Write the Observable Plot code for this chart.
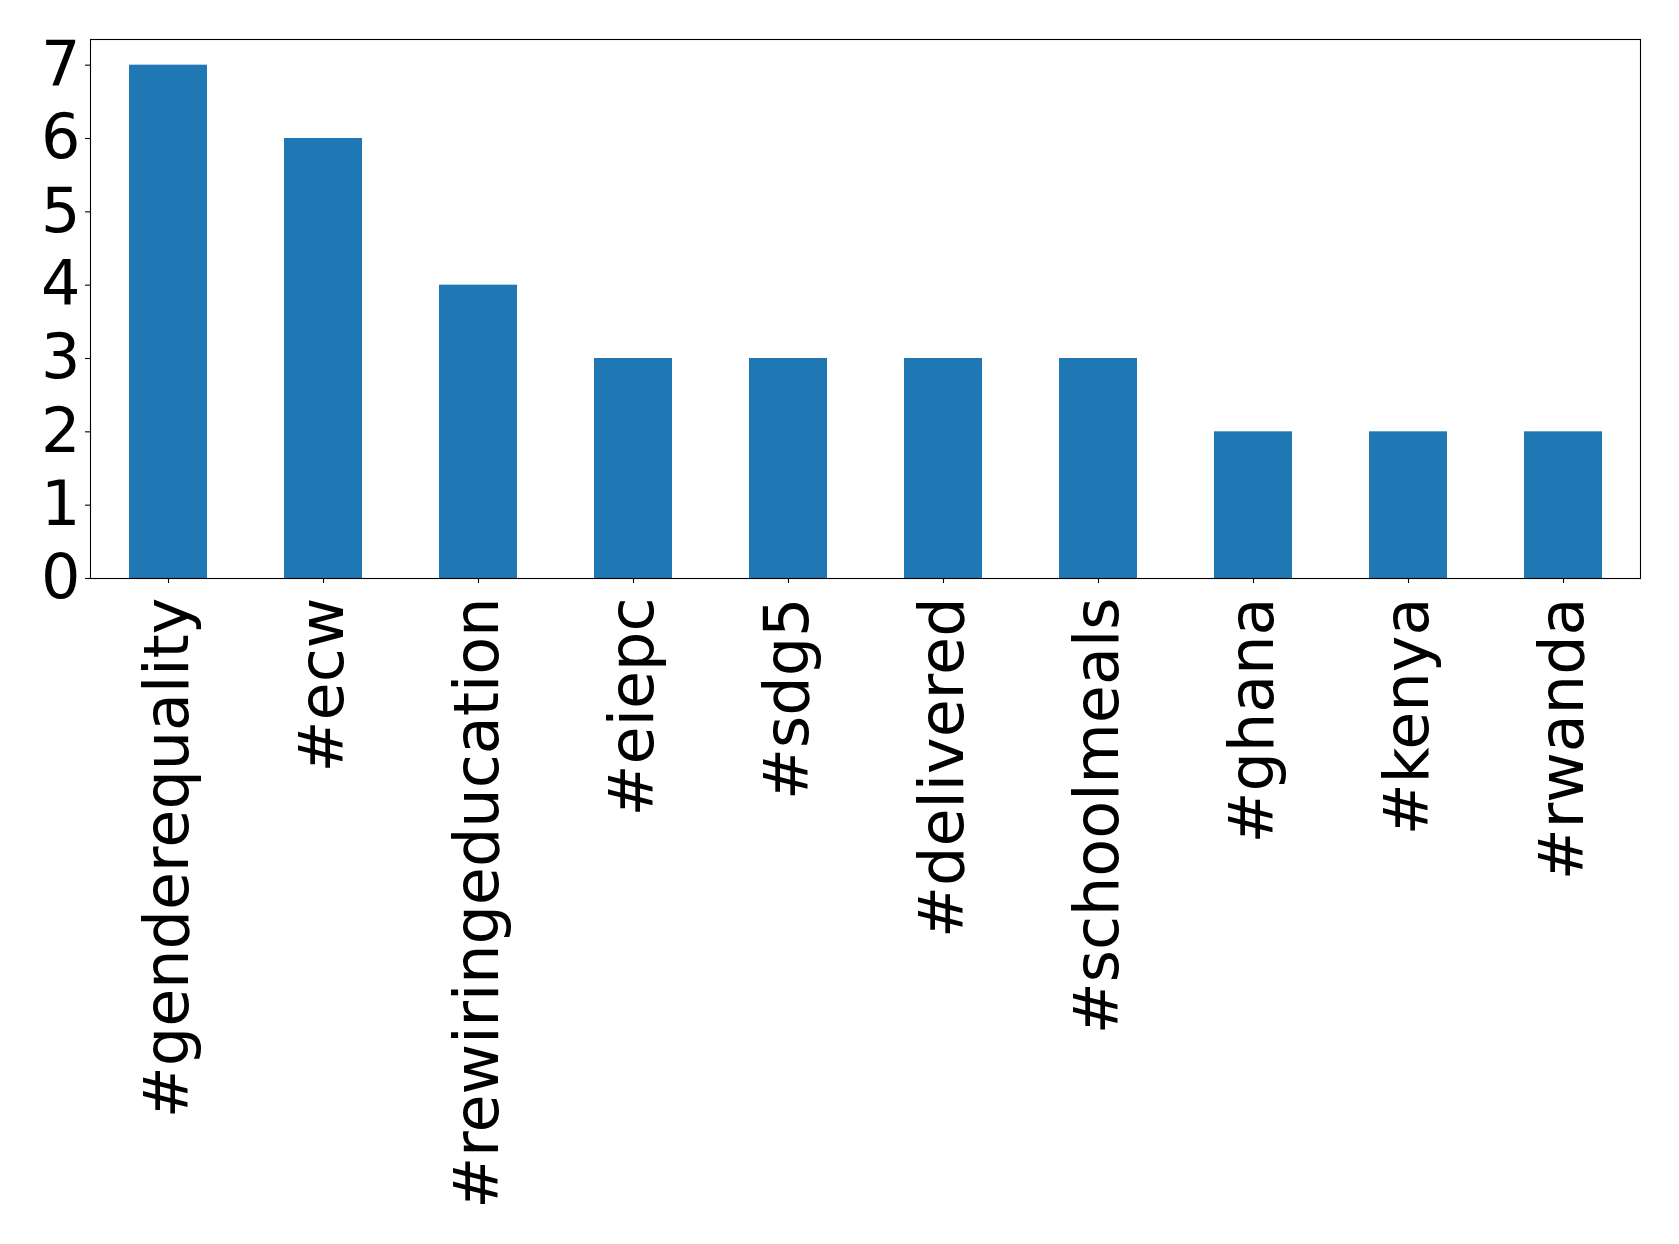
<!DOCTYPE html>
<html>
<head>
<meta charset="utf-8">
<script src="https://cdn.jsdelivr.net/npm/d3@7"></script>
<script src="https://cdn.jsdelivr.net/npm/@observablehq/plot@0.6"></script>
<style>
  html, body { margin: 0; padding: 0; background: #fff; }
  #chart svg { display: block; }
</style>
</head>
<body>
<div id="chart"></div>
<script>
// Hashtag counts
const tags = ["#genderequality", "#ecw", "#rewiringeducation", "#eiepc", "#sdg5",
              "#delivered", "#schoolmeals", "#ghana", "#kenya", "#rwanda"];
const counts = [7, 6, 4, 3, 3, 3, 3, 2, 2, 2];
const yTicks = [0, 1, 2, 3, 4, 5, 6, 7];

const data = tags.map((tag, i) => ({tag, count: counts[i]}));

const chart = Plot.plot({
  width: 1679,
  height: 1244,
  marginLeft: 90,
  marginRight: 39,
  marginTop: 39,
  marginBottom: 666,
  style: {fontFamily: "DejaVu Sans", background: "#fff", color: "#000"},
  x: {domain: tags, paddingInner: 0.5, paddingOuter: 0.25, axis: null},
  y: {domain: [0, 7.35], axis: null},
  marks: [
    Plot.barY(data, {x: "tag", y: "count", fill: "#1f77b4"}),
    Plot.frame({stroke: "#000", strokeWidth: 1.1}),
    Plot.axisY({ticks: yTicks, tickSize: 5, tickPadding: 5, fontSize: 62,
                strokeWidth: 1.1, tickFormat: d => String(d), label: null}),
    Plot.axisX({tickSize: 5, tickPadding: 14, fontSize: 62, tickRotate: -90,
                strokeWidth: 1.1, label: null})
  ]
});

document.getElementById("chart").appendChild(chart);
</script>
</body>
</html>
